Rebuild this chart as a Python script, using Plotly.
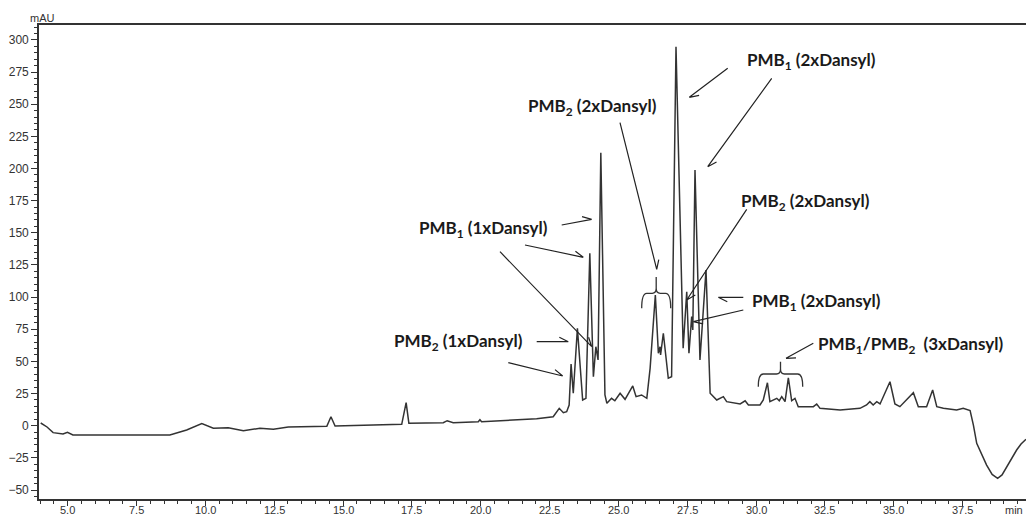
import math
import plotly.graph_objects as go

# ---------------- data ----------------
time_min = [4.02, 4.25, 4.47, 4.83, 4.99, 5.19, 8.71, 9.32, 9.87, 10.29, 10.83, 11.38,
            11.98, 12.47, 13.01, 14.41, 14.56, 14.71, 17.13, 17.29, 17.39, 18.64, 18.78,
            19.00, 19.91, 19.97, 20.03, 22.03, 22.63, 22.85, 23.00, 23.12, 23.21, 23.28,
            23.36, 23.51, 23.70, 23.82, 23.96, 24.09, 24.18, 24.26, 24.36, 24.51, 24.58,
            24.75, 24.87, 25.06, 25.24, 25.52, 25.64, 25.84, 26.03, 26.15, 26.34, 26.45,
            26.51, 26.53, 26.63, 26.81, 26.93, 27.09, 27.35, 27.48, 27.56, 27.66, 27.70,
            27.78, 27.96, 28.18, 28.33, 28.57, 28.81, 28.93, 29.42, 29.60, 29.72, 30.14,
            30.26, 30.41, 30.50, 30.66, 30.75, 30.84, 30.93, 31.05, 31.17, 31.29, 31.41,
            31.53, 32.08, 32.20, 32.32, 33.05, 33.77, 34.01, 34.13, 34.25, 34.38, 34.50,
            34.86, 35.04, 35.22, 35.71, 35.89, 36.19, 36.41, 36.56, 36.80, 37.28, 37.52,
            37.77, 37.89, 38.01, 38.20, 38.37, 38.57, 38.77, 38.93, 39.10, 39.28, 39.46,
            39.62, 39.80]
signal_mau = [2.1, -1.0, -5.4, -6.5, -5.1, -7.2, -7.2, -3.3, 1.6, -2.0, -1.6, -3.9,
              -2.0, -2.8, -1.0, -0.5, 7.0, -0.2, 1.1, 17.9, 1.9, 2.3, 3.9,
              2.3, 3.1, 4.7, 3.1, 5.4, 7.0, 13.5, 10.1, 10.9, 16.1, 48.0,
              25.2, 75.7, 20.0, 21.3, 134.1, 38.1, 61.4, 51.1, 212.3, 23.9, 17.4,
              21.3, 19.4, 25.2, 20.5, 30.9, 22.6, 23.9, 21.3, 44.6, 101.6, 56.3,
              61.4, 55.0, 71.9, 36.9, 38.1, 294.7, 60.2, 104.2, 56.3, 84.8, 74.4,
              198.8, 51.1, 121.1, 25.2, 20.0, 22.6, 18.7, 16.9, 19.4, 16.1, 16.1,
              20.0, 33.4, 18.7, 20.0, 21.3, 19.4, 22.6, 18.7, 37.3, 19.4, 21.3,
              14.8, 14.8, 16.9, 13.5, 12.2, 13.5, 16.1, 18.7, 16.1, 18.7, 16.9,
              34.2, 16.9, 14.8, 25.7, 14.8, 14.8, 27.8, 14.8, 13.5, 12.2, 13.5,
              11.7, 0.5, -13.7, -22.8, -30.6, -37.9, -40.9, -38.3, -31.9, -25.9, -18.9,
              -14.2, -10.6]

x_range = [3.958, 39.80]
y_range = [-57.0, 311.6]

x_tick_vals = [5.0, 7.5, 10.0, 12.5, 15.0, 17.5, 20.0, 22.5, 25.0, 27.5, 30.0, 32.5, 35.0, 37.5]
x_tick_labels = ["5.0", "7.5", "10.0", "12.5", "15.0", "17.5", "20.0", "22.5", "25.0",
                 "27.5", "30.0", "32.5", "35.0", "37.5"]

peak_labels = [
    "<b>PMB<sub>1</sub> (2xDansyl)</b>",
    "<b>PMB<sub>2</sub> (2xDansyl)</b>",
    "<b>PMB<sub>1</sub> (1xDansyl)</b>",
    "<b>PMB<sub>2</sub> (1xDansyl)</b>",
    "<b>PMB<sub>2</sub> (2xDansyl)</b>",
    "<b>PMB<sub>1</sub> (2xDansyl)</b>",
    "<b>PMB<sub>1</sub>/PMB<sub>2</sub>\u00a0\u00a0(3xDansyl)</b>",
]

# ---------------- layout helpers (pixel -> paper) ----------------
W, H = 1026, 517
ML, MR, MT, MB = 39, 0, 25, 18
PW, PH = W - ML - MR, H - MT - MB


def pxx(x):
    return (x - ML) / PW


def pxy(y):
    return (H - MB - y) / PH


label_pos = [(811, 61), (592, 107), (483, 229), (458, 342), (805, 202), (816, 302), (910, 345)]

# arrows: tail (x, y) -> head (x, y), in pixels
arrows = [
    (727.7, 68.3, 689.3, 97.3),
    (771.7, 78.3, 707.7, 166.7),
    (620.0, 122.7, 656.7, 269.3),
    (561.7, 225.0, 591.7, 219.3),
    (525.0, 245.0, 583.3, 257.3),
    (500.0, 251.7, 591.7, 346.7),
    (536.7, 341.7, 568.3, 341.7),
    (508.3, 362.7, 562.7, 376.0),
    (746.7, 209.3, 686.7, 300.0),
    (743.3, 297.3, 718.3, 297.3),
    (743.3, 310.0, 693.3, 321.7),
    (813.3, 343.3, 786.0, 358.3),
]


def pth(cmds):
    s = ""
    for cmd, ps in cmds:
        s += cmd + " " + " ".join(f"{pxx(a):.5f},{pxy(b):.5f}" for a, b in ps) + " "
    return s


def bracket(xl, xr, yb, yt, ys):
    xc = (xl + xr) / 2
    return pth([
        ("M", [(xl, yb)]),
        ("Q", [(xl, yt), (xl + 5, yt)]),
        ("L", [(xc - 4, yt)]),
        ("Q", [(xc, yt), (xc, yt - 5)]),
        ("L", [(xc, ys)]),
        ("M", [(xc, yt - 5)]),
        ("Q", [(xc, yt), (xc + 4, yt)]),
        ("L", [(xr - 5, yt)]),
        ("Q", [(xr, yt), (xr, yb)]),
    ])


def arrow_path(tx, ty, hx, hy, head=10.0, half_angle=26.0):
    ang = math.atan2(ty - hy, tx - hx)
    a = math.radians(half_angle)
    p1 = (hx + head * math.cos(ang + a), hy + head * math.sin(ang + a))
    p2 = (hx + head * math.cos(ang - a), hy + head * math.sin(ang - a))
    return pth([("M", [(tx, ty)]), ("L", [(hx, hy)]),
                ("M", [p1]), ("L", [(hx, hy), p2])])


fig = go.Figure()
fig.add_trace(go.Scatter(x=time_min, y=signal_mau, mode="lines",
                         line=dict(color="#333333", width=1.5), showlegend=False,
                         hoverinfo="skip"))

annotations = []
for txt, (cx, cy) in zip(peak_labels, label_pos):
    annotations.append(dict(text=txt, x=pxx(cx), y=pxy(cy), xref="paper", yref="paper",
                            showarrow=False, xanchor="center", yanchor="middle",
                            font=dict(family="Lato", size=17, color="#1a1a1a")))
for v, lab in zip(x_tick_vals, x_tick_labels):
    annotations.append(dict(text=lab, x=v, y=pxy(510), xref="x", yref="paper",
                            showarrow=False, xanchor="center", yanchor="middle",
                            font=dict(family="Liberation Sans", size=11, color="#333333")))
annotations.append(dict(text="mAU", x=pxx(57), y=pxy(18), xref="paper", yref="paper",
                        showarrow=False, xanchor="right", yanchor="middle",
                        font=dict(family="Liberation Sans", size=11, color="#333333")))
annotations.append(dict(text="min", x=pxx(1025), y=pxy(510), xref="paper", yref="paper",
                        showarrow=False, xanchor="right", yanchor="middle",
                        font=dict(family="Liberation Sans", size=11, color="#333333")))

shapes = [
    dict(type="path", xref="paper", yref="paper", path=bracket(641.7, 670.7, 308.3, 293.3, 277.0),
         line=dict(color="#333333", width=1.3)),
    dict(type="path", xref="paper", yref="paper", path=bracket(758.3, 802.7, 386.7, 374.0, 361.7),
         line=dict(color="#333333", width=1.3)),
]
for tx, ty, hx, hy in arrows:
    shapes.append(dict(type="path", xref="paper", yref="paper",
                       path=arrow_path(tx, ty, hx, hy),
                       line=dict(color="#222222", width=1.2)))

fig.update_layout(
    width=W, height=H,
    margin=dict(l=ML, r=MR, t=MT, b=MB, autoexpand=False),
    paper_bgcolor="white", plot_bgcolor="white",
    annotations=annotations, shapes=shapes,
    xaxis=dict(range=x_range, tick0=0, dtick=2.5, ticks="outside", showticklabels=False,
               ticklen=5, tickwidth=1.2, tickcolor="#333333",
               showline=True, linecolor="#333333", linewidth=1.6, mirror=True,
               showgrid=False, zeroline=False,
               minor=dict(dtick=0.5, ticks="outside", ticklen=3, tickwidth=1.2,
                          tickcolor="#333333", showgrid=False)),
    yaxis=dict(range=y_range, tick0=0, dtick=25, ticks="outside",
               ticklen=6, tickwidth=1.2, tickcolor="#333333",
               showline=True, linecolor="#333333", linewidth=1.6,
               showgrid=False, zeroline=False,
               minor=dict(dtick=5, ticks="outside", ticklen=3, tickwidth=1.0,
                          tickcolor="#333333", showgrid=False),
               tickfont=dict(family="Liberation Sans", size=12, color="#333333")),
)

fig.write_html("out.html", config={"displayModeBar": False},
               post_script="document.body.style.margin='0';document.body.style.overflow='hidden';")
